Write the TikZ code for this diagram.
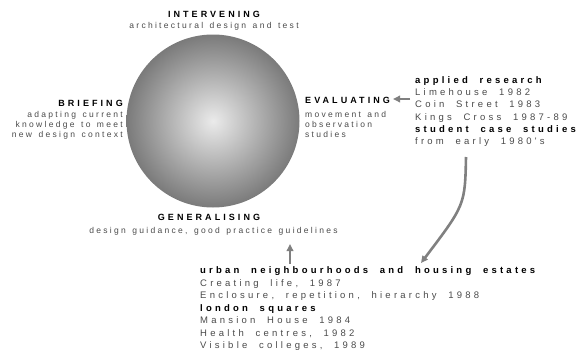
\documentclass[tikz,border=0pt]{standalone}
\usepackage{fontspec}
\setmainfont{Liberation Sans}
\newfontfamily\crf[LetterSpace=27,WordSpace=1.4]{Liberation Sans}
\newfontfamily\cbf[LetterSpace=34]{Liberation Sans Bold}
\newfontfamily\brf[LetterSpace=34,WordSpace=2]{Liberation Sans}
\newfontfamily\bbf[LetterSpace=34,WordSpace=2]{Liberation Sans Bold}
\usetikzlibrary{arrows.meta}
\definecolor{txt}{HTML}{4A4A4A}
\definecolor{arr}{HTML}{808080}
\tikzset{
  x=1pt, y=-1pt,
  creg/.style={inner sep=0pt, font=\crf\fontsize{8.5}{10}\selectfont, text=txt},
  chd/.style={inner sep=0pt, font=\cbf\fontsize{9}{11}\selectfont, text=black},
  breg/.style={inner sep=0pt, font=\brf\fontsize{9.5}{12}\selectfont, text=txt},
  bhd/.style={inner sep=0pt, font=\bbf\fontsize{9.5}{12}\selectfont, text=black},
  conn/.style={draw=arr, line width=2.6pt, -{Triangle[length=7pt,width=6.5pt]}},
}
\begin{document}
\begin{tikzpicture}
\useasboundingbox (0,0) rectangle (576,356);
\node[circle, minimum size=173pt, inner sep=0pt, shading=radial, inner color=black!8, outer color=black!52] (cyc) at (213,121) {};
% top
\node[chd, anchor=base] (int) at (214,17.5) {INTERVENING};
\node[creg, anchor=base] (intd) at (214,28.5) {architectural design and test};
% left
\node[chd, anchor=base east] (brf) at (123,106.5) {BRIEFING};
\node[creg, anchor=base east] (brf1) at (123,117.5) {adapting current};
\node[creg, anchor=base east] (brf2) at (123,127.5) {knowledge to meet};
\node[creg, anchor=base east] (brf3) at (123,137.5) {new design context};
% right
\node[chd, anchor=base west] (evl) at (305,103.5) {EVALUATING};
\node[creg, anchor=base west] (evl1) at (305,117) {movement and};
\node[creg, anchor=base west] (evl2) at (305,127) {observation};
\node[creg, anchor=base west] (evl3) at (305,137) {studies};
% bottom
\node[chd, anchor=base] (gen) at (209,220) {GENERALISING};
\node[creg, anchor=base] (gend) at (213.5,233) {design guidance, good practice guidelines};
% research block
\node[bhd, anchor=base west] (ar) at (415,83.3) {applied research};
\node[breg, anchor=base west] (ar1) at (415,95.5) {Limehouse 1982};
\node[breg, anchor=base west] (ar2) at (415,107.7) {Coin Street 1983};
\node[breg, anchor=base west] (ar3) at (415,120) {Kings Cross 1987-89};
\node[bhd, anchor=base west] (sc) at (415,132.2) {student case studies};
\node[breg, anchor=base west] (sc1) at (415,144.4) {from early 1980's};
% bottom block
\node[bhd, anchor=base west] (un) at (200,273.7) {urban neighbourhoods and housing estates};
\node[breg, anchor=base west] (un1) at (200,286.2) {Creating life, 1987};
\node[breg, anchor=base west] (un2) at (200,298.7) {Enclosure, repetition, hierarchy 1988};
\node[bhd, anchor=base west] (ls) at (200,311.2) {london squares};
\node[breg, anchor=base west] (ls1) at (200,323.7) {Mansion House 1984};
\node[breg, anchor=base west] (ls2) at (200,336.2) {Health centres, 1982};
\node[breg, anchor=base west] (ls3) at (200,348.7) {Visible colleges, 1989};
% connectors
\coordinate (a1s) at (410,99);
\coordinate (a1e) at (393,99);
\draw[conn] (a1s) -- (a1e);
\coordinate (a2s) at (466,157);
\coordinate (a2e) at (421,263);
\draw[conn] (a2s) .. controls (465,205) .. (a2e);
\coordinate (a3s) at (290,264);
\coordinate (a3e) at (290,244);
\draw[conn] (a3s) -- (a3e);
\end{tikzpicture}
\end{document}
